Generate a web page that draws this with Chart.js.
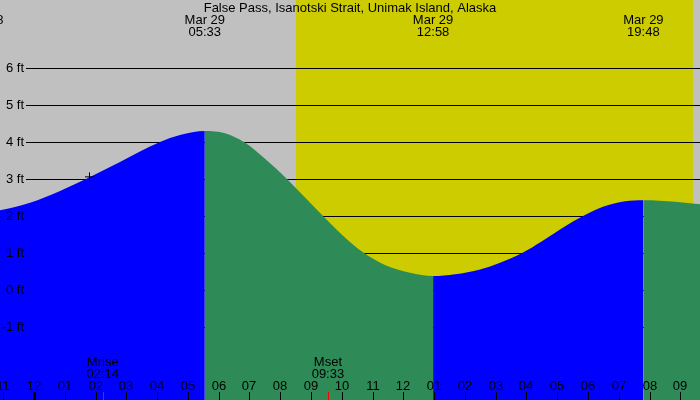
<!DOCTYPE html>
<html>
<head>
<meta charset="utf-8">
<script src="https://cdn.jsdelivr.net/npm/chart.js@4"></script>
<style>body{margin:0;background:#c0c0c0}canvas{display:block}</style>
</head>
<body>
<canvas id="tide" width="700" height="400"></canvas>
<script>
// hours counted from midnight Mar 29 (negative = Mar 28)
const hours   = [-1.65, -1.105, -0.13, 0.845, 1.69, 2.794, 4.094, 4.744, 5.55, 6.206, 6.823, 7.506, 8.221, 8.806, 9.39, 10.04, 10.723, 11.405, 12.217, 12.967, 13.682, 14.494, 15.144, 15.859, 16.506, 17.156, 17.839, 18.489, 19.204, 19.8, 20.828, 21.64];
const heights = [2.13, 2.16, 2.36, 2.68, 3.0, 3.46, 4.0, 4.19, 4.30, 4.24, 4.0, 3.55, 3.0, 2.5, 2.0, 1.47, 1.0, 0.68, 0.47, 0.38, 0.43, 0.56, 0.74, 1.0, 1.32, 1.67, 2.0, 2.25, 2.40, 2.43, 2.39, 2.32];

// high / low tide labels
const extHours = [-1.65, 5.55, 12.967, 19.8];
const extDates = ["Mar 28", "Mar 29", "Mar 29", "Mar 29"];
const extTimes = ["22:21", "05:33", "12:58", "19:48"];

// axis ticks
const hourTicks  = [-1,0,1,2,3,4,5,6,7,8,9,10,11,12,13,14,15,16,17,18,19,20,21];
const hourLabels = ["11","12","01","02","03","04","05","06","07","08","09","10","11","12","01","02","03","04","05","06","07","08","09"];
const ftTicks = [-1,0,1,2,3,4,5,6];

// sun and moon
const daylight  = [8.512, 21.41];
const moonHours = [2.233, 9.55];
const moonNames = ["Mrise", "Mset"];
const moonTimes = ["02:14", "09:33"];

// current-time marker
const markHour = [1.803];
const markFt = [3.06];

const FONT = "13px 'Liberation Sans', Arial, sans-serif";

const backdrop = {
    id: "backdrop",
    beforeDatasetsDraw(chart) {
        const {ctx, scales: {x, y}} = chart;
        ctx.save();
        ctx.fillStyle = "#c0c0c0";
        ctx.fillRect(0, 0, 700, 400);
        const sx = x.getPixelForValue(daylight[0]), ex = x.getPixelForValue(daylight[1]);
        ctx.fillStyle = "#cccc00";
        ctx.fillRect(sx, 0, ex - sx, 400);
        ctx.strokeStyle = "#000";
        ctx.lineWidth = 1;
        ftTicks.forEach(v => {
            const py = Math.round(y.getPixelForValue(v)) + 0.5;
            ctx.beginPath();
            ctx.moveTo(26, py);
            ctx.lineTo(700, py);
            ctx.stroke();
        });
        ctx.restore();
    },
    afterDatasetsDraw(chart) {
        const {ctx, scales: {x, y}} = chart;
        ctx.save();
        ctx.fillStyle = "#000";
        ctx.font = FONT;
        ctx.textBaseline = "middle";
        ctx.textAlign = "right";
        ftTicks.forEach(v => {
            ctx.fillText(v + " ft", 24, Math.round(y.getPixelForValue(v)) + 0.5);
        });
        ctx.textAlign = "center";
        ctx.fillText("False Pass, Isanotski Strait, Unimak Island, Alaska", 350, 8);
        extHours.forEach((h, i) => {
            const px = x.getPixelForValue(h);
            ctx.fillText(extDates[i], px, 20);
            ctx.fillText(extTimes[i], px, 32);
        });
        hourTicks.forEach((h, i) => {
            const px = Math.round(x.getPixelForValue(h));
            ctx.fillText(hourLabels[i], px, 386);
            if (h === 0) ctx.fillRect(px - 1, 392, 3, 8);
            else ctx.fillRect(px, 392, 1, 8);
        });
        moonHours.forEach((h, i) => {
            const px = x.getPixelForValue(h);
            ctx.fillStyle = "#000";
            ctx.fillText(moonNames[i], px, 362);
            ctx.fillText(moonTimes[i], px, 374);
            ctx.fillStyle = "#ff0000";
            ctx.fillRect(Math.round(px), 392, 1, 8);
        });
        ctx.restore();
    }
};

new Chart(document.getElementById("tide"), {
    type: "line",
    data: {
        datasets: [{
            data: markHour.map((h, i) => ({x: h, y: markFt[i]})),
            showLine: false, pointStyle: "cross", pointRadius: 4.5,
            borderColor: "#000", borderWidth: 1, fill: false
        }, {
            data: hours.map((h, i) => ({x: h, y: heights[i]})),
            fill: "start",
            backgroundColor: "#0000ff",
            borderWidth: 0, pointRadius: 0,
            cubicInterpolationMode: "monotone",
            //rising tide blue, falling tide green
            segment: {
                backgroundColor: c => c.p1.parsed.y > c.p0.parsed.y ? "#0000ff" : "#2e8b57"
            }
        }]
    },
    options: {
        responsive: false,
        animation: false,
        devicePixelRatio: 1,
        layout: {padding: 0, autoPadding: false},
        scales: {
            x: {type: "linear", min: -1.105, max: 21.64, display: false},
            y: {min: -2.97, max: 7.84, display: false}
        },
        plugins: {legend: {display: false}, tooltip: {enabled: false}}
    },
    plugins: [backdrop]
});
</script>
</body>
</html>
